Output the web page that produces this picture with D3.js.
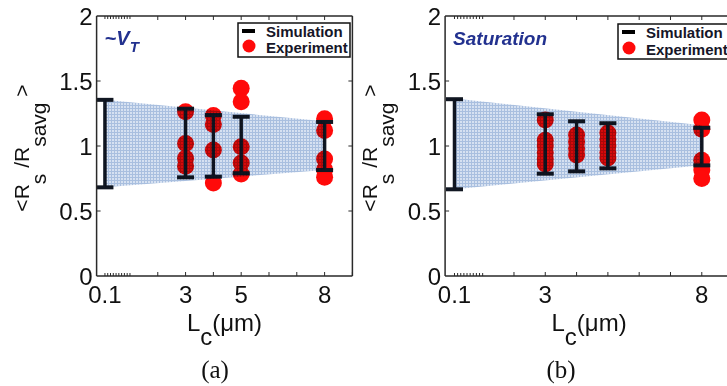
<!DOCTYPE html>
<html>
<head>
<meta charset="utf-8">
<script src="https://cdn.jsdelivr.net/npm/d3@7"></script>
<style>
  body { margin: 0; background: #fff; }
  svg { display: block; }
</style>
</head>
<body>
<svg id="chart" width="727" height="386"></svg>
<script>
// Normalised sheet resistance <Rs/Rsavg> against contact length Lc,
// simulation spread (error bars + shaded band) versus measured devices.

const yTickValues = [0, 0.5, 1, 1.5, 2];
const yTickLabels = ["0", "0.5", "1", "1.5", "2"];
const xMajorTicks = [2, 3, 4, 5, 6, 7, 8, 9];
const xMinorTicks = [0.1, 0.2, 0.3, 0.4, 0.5, 0.6, 0.7, 0.8, 0.9, 1.0];
const xTickLabelsA = [0.1, 3, 5, 8];
const xTickLabelsB = [0.1, 3, 8];

// (a) near threshold, ~VT
const simLcA   = [0.1, 3, 4, 5, 8];
const simHighA = [1.355, 1.287, 1.238, 1.225, 1.185];
const simLowA  = [0.682, 0.759, 0.764, 0.790, 0.815];
const bandLcA   = [0.1, 8];
const bandHighA = [1.355, 1.190];
const bandLowA  = [0.682, 0.815];
const expLcA  = [3, 3, 3, 3, 4, 4, 4, 4, 5, 5, 5, 5, 5, 8, 8, 8, 8, 8];
const expValA = [1.264, 1.020, 0.905, 0.845,
                 1.235, 1.165, 0.970, 0.715,
                 1.445, 1.340, 0.995, 0.870, 0.785,
                 1.210, 1.120, 0.900, 0.820, 0.760];

// (b) saturation
const simLcB   = [0.1, 3, 4, 5, 8];
const simHighB = [1.360, 1.244, 1.190, 1.175, 1.140];
const simLowB  = [0.667, 0.787, 0.805, 0.828, 0.851];
const bandLcB   = [0.1, 8];
const bandHighB = [1.365, 1.160];
const bandLowB  = [0.667, 0.852];
const expLcB  = [3, 3, 3, 3, 3, 3, 4, 4, 4, 4, 5, 5, 5, 5, 5, 8, 8, 8, 8, 8];
const expValB = [1.200, 1.045, 1.000, 0.950, 0.900, 0.862,
                 1.085, 1.030, 0.980, 0.930,
                 1.100, 1.050, 1.000, 0.950, 0.908,
                 1.200, 1.128, 0.890, 0.815, 0.750];

const svg = d3.select("#chart");
const sans = "'Liberation Sans', Arial, Helvetica, sans-serif";
const serif = "'Liberation Serif', 'Times New Roman', serif";

// mesh fill used for the simulated spread band (multiplied over the marks below)
const defs = svg.append("defs");
const pat = defs.append("pattern")
  .attr("id", "mesh").attr("width", 3).attr("height", 3)
  .attr("patternUnits", "userSpaceOnUse");
pat.append("rect").attr("width", 3).attr("height", 3).attr("fill", "#d6e1f1");
pat.append("path").attr("d", "M0 0.5H3M0.5 0V3")
  .attr("stroke", "#a9bfdf").attr("stroke-width", 1);

const y = d3.scaleLinear().domain([0, 2]).range([276, 16]);

function panel(cfg) {
  const x = d3.scaleLinear().domain([-0.2, 9]).range(cfg.xRange);
  const g = svg.append("g");
  const [x0, x1] = cfg.xRange;
  const [yb, yt] = y.range();

  // experimental points
  g.append("g").selectAll("circle")
    .data(cfg.expLc.map((d, i) => [d, cfg.expVal[i]]))
    .join("circle")
    .attr("cx", d => x(d[0])).attr("cy", d => y(d[1]))
    .attr("r", 8.5).attr("fill", "#ff0a0a");

  // simulation error bars
  const bars = g.append("g").attr("stroke", "#111722");
  cfg.simLc.forEach((lc, i) => {
    const cx = x(lc);
    bars.append("line").attr("x1", cx).attr("x2", cx)
      .attr("y1", y(cfg.simHigh[i])).attr("y2", y(cfg.simLow[i]))
      .attr("stroke-width", 3.5);
    [cfg.simHigh[i], cfg.simLow[i]].forEach(v => {
      bars.append("line").attr("x1", cx - 8.5).attr("x2", cx + 8.5)
        .attr("y1", y(v)).attr("y2", y(v)).attr("stroke-width", 4);
    });
  });

  // simulated spread band
  const area = d3.area()
    .x((d, i) => x(cfg.bandLc[i]))
    .y0((d, i) => y(cfg.bandLow[i]))
    .y1((d, i) => y(cfg.bandHigh[i]));
  g.append("path").datum(cfg.bandLc).attr("d", area)
    .attr("fill", "url(#mesh)").style("mix-blend-mode", "multiply");

  // frame and ticks
  const ax = g.append("g").attr("stroke", "#2a2a2a").attr("fill", "none");
  ax.append("path").attr("stroke-width", 1.5)
    .attr("d", `M${x0},${yt}H${x1}M${x0},${yb}H${x1}M${x0},${yt}V${yb}M${x1},${yt}V${yb}`);
  xMajorTicks.forEach(t => {
    ax.append("path").attr("stroke-width", 1)
      .attr("d", `M${x(t)},${yb}v-4M${x(t)},${yt}v4`);
  });
  xMinorTicks.forEach(t => {
    ax.append("path").attr("stroke-width", 1)
      .attr("d", `M${x(t)},${yb}v-3M${x(t)},${yt}v3`);
  });
  yTickValues.slice(1, -1).forEach(t => {
    ax.append("path").attr("stroke-width", 1)
      .attr("d", `M${x0},${y(t)}h4M${x1},${y(t)}h-4`);
  });

  // tick labels
  g.append("g").selectAll("text").data(yTickValues).join("text")
    .attr("x", x0 - 4).attr("y", d => y(d)).attr("dy", "0.36em")
    .attr("text-anchor", "end").attr("font-family", sans).attr("font-size", 24)
    .attr("fill", "#111").text((d, i) => yTickLabels[i]);
  g.append("g").selectAll("text").data(cfg.xLabels).join("text")
    .attr("x", d => x(d)).attr("y", 303)
    .attr("text-anchor", "middle").attr("font-family", sans).attr("font-size", 24)
    .attr("fill", "#111").text(d => String(d));

  // axis titles
  const xt = g.append("text").attr("x", (x0 + x1) / 2).attr("y", 331)
    .attr("text-anchor", "middle").attr("font-family", sans).attr("font-size", 24).attr("fill", "#111");
  xt.append("tspan").text("L");
  xt.append("tspan").attr("dy", 14).text("c");
  xt.append("tspan").attr("dy", -14).text("(\u03bcm)");

  const yt2 = g.append("text")
    .attr("transform", `translate(${cfg.yTitleX},148) rotate(-90)`)
    .attr("text-anchor", "middle").attr("font-family", sans).attr("font-size", 21).attr("fill", "#111");
  yt2.append("tspan").text("<R");
  yt2.append("tspan").attr("dy", 17).text("s");
  yt2.append("tspan").attr("dy", -17).text(" /R");
  yt2.append("tspan").attr("dy", 17).text("savg");
  yt2.append("tspan").attr("dy", -17).text(" >");

  g.append("text").attr("x", cfg.captionX).attr("y", 378)
    .attr("text-anchor", "middle").attr("font-family", serif).attr("font-size", 25)
    .attr("fill", "#111").text(cfg.caption);

  // regime annotation
  const ann = g.append("text").attr("x", x0 + 8).attr("y", 45)
    .attr("font-family", sans).attr("font-weight", "bold").attr("font-style", "italic")
    .attr("fill", "#22318f");
  cfg.note(ann);

  // legend
  const [lx, ly, lw, lh] = cfg.legend;
  const lg = g.append("g").attr("transform", `translate(${lx},${ly})`);
  lg.append("rect").attr("width", lw).attr("height", lh)
    .attr("fill", "#fff").attr("stroke", "#111").attr("stroke-width", 1.5);
  lg.append("line").attr("x1", 4).attr("x2", 17).attr("y1", 8).attr("y2", 8)
    .attr("stroke", "#000").attr("stroke-width", 4);
  lg.append("circle").attr("cx", 11).attr("cy", lh - 11).attr("r", 6.5).attr("fill", "#ff0a0a");
  lg.append("text").attr("x", 28).attr("y", 14).attr("font-family", sans)
    .attr("font-weight", "bold").attr("font-size", 15).attr("fill", "#161628").text("Simulation");
  lg.append("text").attr("x", 28).attr("y", lh - 4).attr("font-family", sans)
    .attr("font-weight", "bold").attr("font-size", 15).attr("fill", "#161628").text("Experiment");
}

panel({
  xRange: [96.6, 352.4], xLabels: xTickLabelsA,
  simLc: simLcA, simHigh: simHighA, simLow: simLowA,
  bandLc: bandLcA, bandHigh: bandHighA, bandLow: bandLowA,
  expLc: expLcA, expVal: expValA,
  yTitleX: 29, caption: "(a)", captionX: 215,
  legend: [238, 23, 112, 34],
  note: t => {
    t.append("tspan").attr("font-size", 20).text("~V");
    t.append("tspan").attr("font-size", 15).attr("dy", 7).text("T");
  }
});

panel({
  xRange: [445.1, 733.1], xLabels: xTickLabelsB,
  simLc: simLcB, simHigh: simHighB, simLow: simLowB,
  bandLc: bandLcB, bandHigh: bandHighB, bandLow: bandLowB,
  expLc: expLcB, expVal: expValB,
  yTitleX: 377, caption: "(b)", captionX: 561,
  legend: [618, 24, 124, 35],
  note: t => {
    t.append("tspan").attr("font-size", 19).text("Saturation");
  }
});
</script>
</body>
</html>
